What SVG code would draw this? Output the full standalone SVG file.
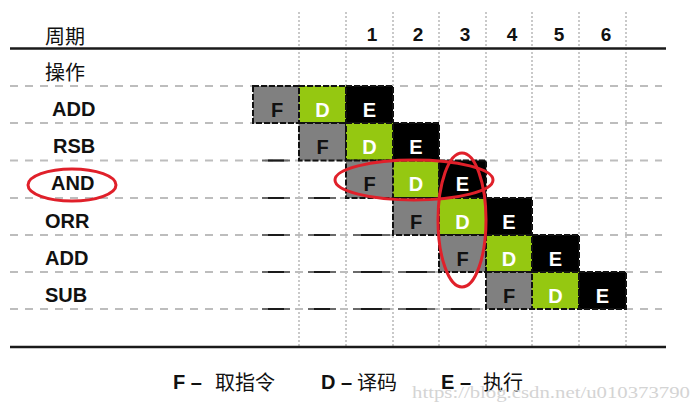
<svg xmlns="http://www.w3.org/2000/svg" width="700" height="410" viewBox="0 0 700 410">
<style>
.bg{fill:#ffffff}
.cjk{font-family:"Noto Sans CJK SC","Liberation Sans",sans-serif;font-size:20px;fill:#111}
.lbl{font-family:"Liberation Sans",Arial,sans-serif;font-weight:bold;font-size:20px;fill:#111}
.num{font-family:"Liberation Sans",Arial,sans-serif;font-weight:bold;font-size:19px;fill:#111;text-anchor:middle}
.vgrid{stroke:#b8b8b8;stroke-width:1.5;stroke-dasharray:2 2;fill:none}
.hgrid{stroke:#bdbdbd;stroke-width:2;stroke-dasharray:8 7;fill:none}
.solid{stroke:#1a1a1a;stroke-width:2.5;fill:none}
.dk{stroke:#6a6a6a;stroke-width:2;fill:none}
.dkc{stroke:#1a1a1a;stroke-width:2;fill:none}
.cf{fill:#808080;stroke:#111;stroke-width:2;stroke-dasharray:6 2}
.cd{fill:#95c811;stroke:#111;stroke-width:2;stroke-dasharray:6 2}
.ce{fill:#000;stroke:#111;stroke-width:2;stroke-dasharray:6 2}
.tf{font-family:"Liberation Sans",Arial,sans-serif;font-weight:bold;font-size:20px;fill:#111;text-anchor:middle}
.tw{font-family:"Liberation Sans",Arial,sans-serif;font-weight:bold;font-size:20px;fill:#fff;text-anchor:middle}
.red{fill:none;stroke:#e0202a;stroke-width:3}
.wm{font-family:"Liberation Serif",serif;font-size:17px;fill:#d4d4d4}
</style>
<defs>
  <g id="mark">
    <line class="dk" x1="0" y1="0" x2="28" y2="0"/>
    <line class="dkc" x1="6" y1="0" x2="22" y2="0"/>
  </g>
  <g id="markw">
    <line class="dk" x1="0" y1="0" x2="37" y2="0"/>
    <line class="dkc" x1="8" y1="0" x2="29" y2="0"/>
  </g>
</defs>
<rect class="bg" x="0" y="0" width="700" height="410"/>

<g id="grid">
  <g id="vlines">
    <line class="vgrid" x1="299" y1="12" x2="299" y2="347"/>
    <line class="vgrid" x1="346" y1="12" x2="346" y2="347"/>
    <line class="vgrid" x1="393" y1="12" x2="393" y2="347"/>
    <line class="vgrid" x1="439" y1="12" x2="439" y2="347"/>
    <line class="vgrid" x1="486" y1="12" x2="486" y2="347"/>
    <line class="vgrid" x1="532" y1="12" x2="532" y2="347"/>
    <line class="vgrid" x1="579" y1="12" x2="579" y2="347"/>
    <line class="vgrid" x1="626" y1="12" x2="626" y2="347"/>
  </g>
  <g id="hlines">
    <line class="hgrid" x1="10" y1="86" x2="662" y2="86"/>
    <line class="hgrid" x1="10" y1="123" x2="662" y2="123"/>
    <line class="hgrid" x1="10" y1="160.5" x2="662" y2="160.5"/>
    <line class="hgrid" x1="10" y1="198" x2="662" y2="198"/>
    <line class="hgrid" x1="10" y1="235" x2="662" y2="235"/>
    <line class="hgrid" x1="10" y1="272" x2="662" y2="272"/>
    <line class="hgrid" x1="10" y1="309" x2="662" y2="309"/>
  </g>
  <g id="dark-marks">
    <use href="#mark" x="262" y="160.5"/>
    <use href="#mark" x="262" y="198"/>
    <use href="#mark" x="262" y="235"/>
    <use href="#mark" x="262" y="272"/>
    <use href="#mark" x="262" y="309"/>
    <use href="#mark" x="308" y="198"/>
    <use href="#mark" x="308" y="235"/>
    <use href="#mark" x="308" y="272"/>
    <use href="#mark" x="308" y="309"/>
    <use href="#markw" x="353" y="235"/>
    <use href="#markw" x="353" y="272"/>
    <use href="#markw" x="353" y="309"/>
    <use href="#markw" x="398" y="272"/>
    <use href="#markw" x="398" y="309"/>
    <use href="#markw" x="443" y="309"/>
  </g>
  <line class="solid" x1="10" y1="48.5" x2="666" y2="48.5"/>
  <line class="solid" x1="10" y1="347" x2="666" y2="347"/>
</g>

<g id="header">
  <text class="cjk" x="45" y="44">周期</text>
  <text class="cjk" x="45" y="80">操作</text>
  <text class="num" x="372" y="41">1</text>
  <text class="num" x="418" y="41">2</text>
  <text class="num" x="465" y="41">3</text>
  <text class="num" x="512" y="41">4</text>
  <text class="num" x="559" y="41">5</text>
  <text class="num" x="606" y="41">6</text>
</g>

<g id="row-add1">
  <text class="lbl" x="52" y="116">ADD</text>
  <rect class="cf" x="253" y="86" width="46" height="37"/>
  <rect class="cd" x="299" y="86" width="47" height="37"/>
  <rect class="ce" x="346" y="86" width="47" height="37"/>
  <text class="tf" x="277" y="117">F</text>
  <text class="tw" x="322.5" y="117">D</text>
  <text class="tw" x="369.5" y="117">E</text>
</g>

<g id="row-rsb">
  <text class="lbl" x="53" y="153">RSB</text>
  <rect class="cf" x="299" y="123" width="47" height="37.5"/>
  <rect class="cd" x="346" y="123" width="47" height="37.5"/>
  <rect class="ce" x="393" y="123" width="46" height="37.5"/>
  <text class="tf" x="322.5" y="154">F</text>
  <text class="tw" x="369.5" y="154">D</text>
  <text class="tw" x="416" y="154">E</text>
</g>

<g id="row-and">
  <text class="lbl" x="51" y="190">AND</text>
  <rect class="cf" x="346" y="160.5" width="47" height="37.5"/>
  <rect class="cd" x="393" y="160.5" width="46" height="37.5"/>
  <rect class="ce" x="439" y="160.5" width="47" height="37.5"/>
  <text class="tf" x="369.5" y="191">F</text>
  <text class="tw" x="416" y="191">D</text>
  <text class="tw" x="462.5" y="191">E</text>
</g>

<g id="row-orr">
  <text class="lbl" x="45" y="228">ORR</text>
  <rect class="cf" x="393" y="198" width="46" height="37"/>
  <rect class="cd" x="439" y="198" width="47" height="37"/>
  <rect class="ce" x="486" y="198" width="46" height="37"/>
  <text class="tf" x="416" y="229">F</text>
  <text class="tw" x="462.5" y="229">D</text>
  <text class="tw" x="509" y="229">E</text>
</g>

<g id="row-add2">
  <text class="lbl" x="45" y="265">ADD</text>
  <rect class="cf" x="439" y="235" width="47" height="37"/>
  <rect class="cd" x="486" y="235" width="46" height="37"/>
  <rect class="ce" x="532" y="235" width="47" height="37"/>
  <text class="tf" x="462.5" y="266">F</text>
  <text class="tw" x="509" y="266">D</text>
  <text class="tw" x="555.5" y="266">E</text>
</g>

<g id="row-sub">
  <text class="lbl" x="45" y="302">SUB</text>
  <rect class="cf" x="486" y="272" width="46" height="37"/>
  <rect class="cd" x="532" y="272" width="47" height="37"/>
  <rect class="ce" x="579" y="272" width="47" height="37"/>
  <text class="tf" x="509" y="303">F</text>
  <text class="tw" x="555.5" y="303">D</text>
  <text class="tw" x="602.5" y="303">E</text>
</g>

<g id="annotations">
  <ellipse class="red" cx="72" cy="185" rx="44" ry="16"/>
  <ellipse class="red" cx="414" cy="180" rx="79" ry="20"/>
  <ellipse class="red" cx="462" cy="220" rx="24" ry="67"/>
</g>

<g id="legend">
  <text class="lbl" x="173" y="389">F –</text>
  <text class="cjk" x="215" y="390">取指令</text>
  <text class="lbl" x="321" y="389">D –</text>
  <text class="cjk" x="357" y="390">译码</text>
  <text class="lbl" x="441" y="389">E –</text>
  <text class="cjk" x="483" y="390">执行</text>
</g>

<text class="wm" x="412" y="398" textLength="278" lengthAdjust="spacingAndGlyphs">https://blog.csdn.net/u010373790</text>
</svg>
